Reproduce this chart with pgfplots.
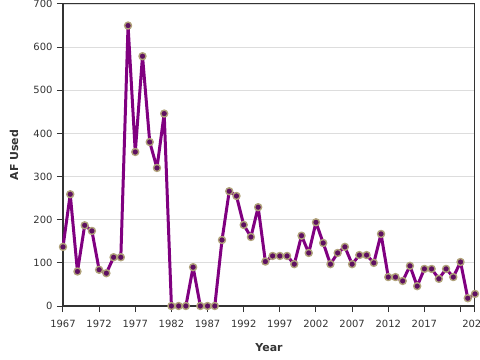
\documentclass[border=0pt]{standalone}
\usepackage{pgfplots}
\pgfplotsset{compat=1.18}
\usepackage{fontspec}
\setmainfont{DejaVu Sans}
\definecolor{linepurple}{HTML}{800080}
\definecolor{markfill}{HTML}{5E1060}
\definecolor{markedge}{HTML}{B0A27A}
\definecolor{gridgray}{HTML}{DDDDDD}
\definecolor{axisdark}{HTML}{333333}
\begin{document}
\begin{tikzpicture}
\begin{axis}[
 at={(0,0)}, anchor=south west,
 scale only axis, width=412bp, height=302bp,
 xmin=1967, xmax=2024, ymin=0, ymax=700,
 ytick={0,100,...,700},
 xtick={1967,1972,1977,1982,1987,1992,1997,2002,2007,2012,2017,2022,2024},
 xticklabels={1967,1972,1977,1982,1987,1992,1997,2002,2007,2012,2017,,2024},
 ymajorgrids, major grid style={gridgray, line width=0.8bp},
 tick align=outside, tick pos=left, major tick length=6bp,
 tick style={axisdark, line width=1bp},
 axis line style={axisdark, line width=1bp},
 tick label style={font=\fontsize{10}{11}\selectfont, text=axisdark},
 xticklabel style={yshift=-5bp},
 yticklabel style={xshift=-1bp},
 /pgf/number format/assume math mode=true,
 /pgf/number format/1000 sep={},
 xlabel={Year}, ylabel={AF Used},
 label style={font=\fontsize{11}{13}\selectfont\bfseries, text=axisdark},
 xlabel style={at={(axis description cs:0.5,-0.138)}, anchor=center},
 ylabel style={at={(axis description cs:-0.119,0.5)}, anchor=center},
 clip=false,
]
\draw[axisdark, line width=2.2bp] (rel axis cs:0,1) -- (rel axis cs:0,0) -- (rel axis cs:1,0);
\addplot[linepurple, line width=3bp, line join=round, mark=*, mark size=3.5bp,
  mark options={fill=markfill, draw=markedge, line width=1.4bp}] coordinates {
(1967,137) (1968,259) (1969,80) (1970,187) (1971,174) (1972,84) (1973,76) (1974,113) (1975,113)
(1976,650) (1977,357) (1978,579) (1979,380) (1980,320) (1981,446)
(1982,0) (1983,0) (1984,0) (1985,90) (1986,0) (1987,0) (1988,0)
(1989,153) (1990,266) (1991,255) (1992,188) (1993,160) (1994,229) (1995,103)
(1996,116) (1997,116) (1998,116) (1999,97) (2000,163) (2001,123) (2002,194) (2003,146)
(2004,97) (2005,123) (2006,137) (2007,97) (2008,118) (2009,118) (2010,100)
(2011,167) (2012,67) (2013,67) (2014,58) (2015,93) (2016,46) (2017,86) (2018,86)
(2019,63) (2020,86) (2021,67) (2022,102) (2023,18) (2024,28)
};
\end{axis}
\pgfresetboundingbox
\path[use as bounding box] (-63bp,-54bp) rectangle (417bp,306bp);
\end{tikzpicture}
\end{document}
